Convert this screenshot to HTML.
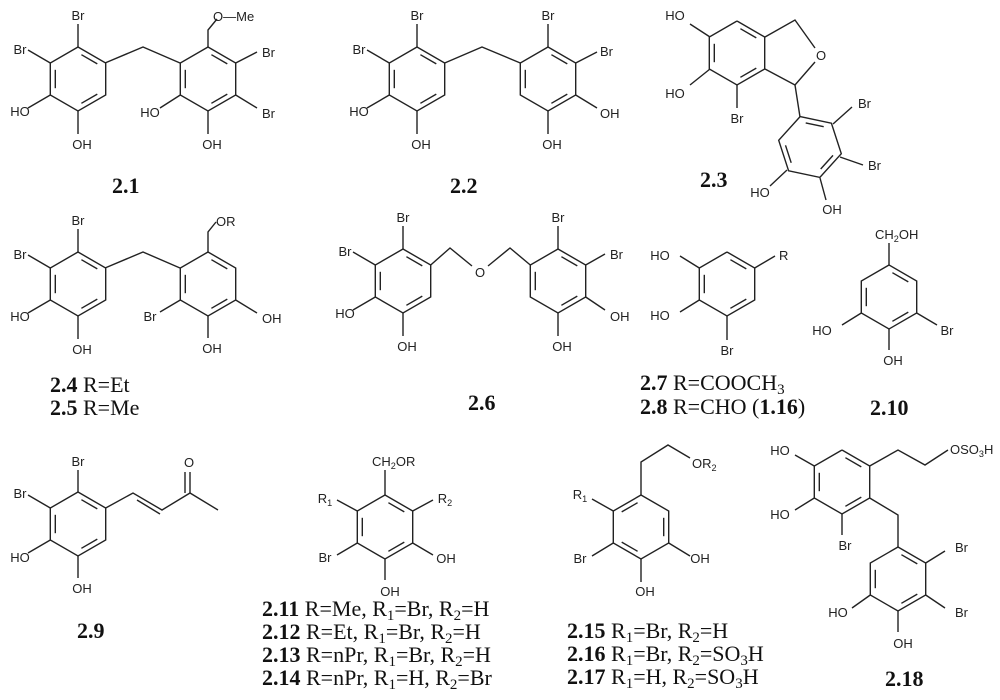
<!DOCTYPE html>
<html><head><meta charset="utf-8"><style>
html,body{margin:0;padding:0;background:#fff;}
svg{display:block}
.a{font-family:"Liberation Sans",sans-serif;font-size:13px;fill:#222}
.b{font-family:"Liberation Serif",serif;font-size:22px;fill:#111}
.bb{font-weight:bold}
</style></head><body>
<svg id="s" width="1000" height="700" viewBox="0 0 1000 700" xmlns="http://www.w3.org/2000/svg"><g id="g" stroke="#222" stroke-width="1.4" fill="none"></g><g id="t"></g></svg>
<script>
var G=document.getElementById('g'),T=document.getElementById('t');var out='',txt='';
function L(){var a=arguments;var s='M'+a[0]+' '+a[1];for(var i=2;i<a.length;i+=2)s+=' L'+a[i]+' '+a[i+1];out+='<path d="'+s+'"/>';}
function ring(cx,cy,r,rot,db){rot=rot||-90;db=db||[0,2,4];var v=[];for(var i=0;i<6;i++){var an=(rot+60*i)*Math.PI/180;v.push([cx+r*Math.cos(an),cy+r*Math.sin(an)]);}
var p=[];for(i=0;i<=6;i++)p.push(v[i%6][0].toFixed(1),v[i%6][1].toFixed(1));L.apply(null,p);
db.forEach(function(k){var a=v[k],b=v[(k+1)%6];var f=0.82,s=0.15;function q(P,Q,t){return[P[0]+(Q[0]-P[0])*t,P[1]+(Q[1]-P[1])*t];}
var a2=q(a,[cx,cy],1-f),b2=q(b,[cx,cy],1-f);var A=q(a2,b2,s),B=q(a2,b2,1-s);L(A[0].toFixed(1),A[1].toFixed(1),B[0].toFixed(1),B[1].toFixed(1));});return v;}
function t(x,y,s,anc,cls){txt+='<text x="'+x+'" y="'+y+'" text-anchor="'+(anc||'middle')+'" class="'+(cls||'a')+'">'+s+'</text>';}
function sub(s){return '<tspan dy="3" font-size="0.7em">'+s+'</tspan><tspan dy="-3">';}
function lab(x,y,num,rest){txt+='<text x="'+x+'" y="'+y+'" class="b"><tspan class="bb">'+num+'</tspan>'+(rest||'')+'</text>';}
function S(s){return '<tspan dy="4" font-size="15px">'+s+'</tspan><tspan dy="-4">';}
// catechol ring with Br top and Br left, HO lower-left, OH bottom
function catL(cx,cy){ring(cx,cy,32);L(cx,cy-32,cx,cy-55);t(cx,cy-59,'Br');L(cx-27.7,cy-16,cx-50,cy-29);t(cx-58,cy-25,'Br');
L(cx-27.7,cy+16,cx-50,cy+29);t(cx-58,cy+37,'HO');L(cx,cy+32,cx,cy+55);t(cx+4,cy+70,'OH');}
// 2.1
catL(78,79);ring(208,79,32,-90,[0,2,4]);L(105,63,143,47,180,63);L(208,47,208,30,217,19);t(213,21,'O—Me','start');
L(235.7,63,257,52);t(262,57,'Br','start');L(235.7,95,257,108);t(262,118,'Br','start');L(180.3,95,160,108);t(150,117,'HO');L(208,111,208,134);t(212,149,'OH');
lab(112,193,'2.1');
// 2.2
catL(417,79);ring(548,79,32);L(444.7,63,482,47,520.3,63);L(548,47,548,24);t(548,20,'Br');L(575.7,63,597,52);t(600,56,'Br','start');
L(575.7,95,597,108);t(600,118,'OH','start');L(548,111,548,134);t(552,149,'OH');lab(450,193,'2.2');
// 2.3
ring(737,53,32,-90,[0,2,4]);L(765,37,795,20,815,48);t(821,60,'O');L(815,62,795,85,765,69);L(710,37,690,24);t(675,20,'HO');L(710,69,690,85);t(675,98,'HO');L(737,85,737,108);t(737,123,'Br');
var v=ring(810,147,32,-108,[0,2,4]);L(795,85,800,117);L(833,124,852,107);t(858,108,'Br','start');L(840,157,863,165);t(868,170,'Br','start');L(787,170,770,186);t(760,197,'HO');L(820,178,826,200);t(832,214,'OH');
lab(700,187,'2.3');
// 2.4
catL(78,284);ring(208,284,32);L(105,268,143,252,180,268);L(208,252,208,232,216,222);t(216,226,'OR','start');
L(180.3,300,160,312);t(150,321,'Br');L(235.7,300,257,313);t(262,323,'OH','start');L(208,316,208,338);t(212,353,'OH');
lab(50,392,'2.4',' R=Et');lab(50,415,'2.5',' R=Me');
// 2.6
catL(403,281);ring(558,281,32);L(430.7,265,450,248,472,266);t(480,277,'O');L(488,266,510,248,530.3,265);L(558,249,558,226);t(558,222,'Br');
L(585.7,265,605,254);t(610,259,'Br','start');L(585.7,297,605,310);t(610,321,'OH','start');L(558,313,558,336);t(562,351,'OH');lab(468,410,'2.6');
// 2.7
ring(727,284,32);L(754.7,268,775,256);t(779,260,'R','start');L(699.3,268,680,256);t(660,260,'HO');L(699.3,300,680,312);t(660,320,'HO');L(727,316,727,340);t(727,355,'Br');
lab(640,390,'2.7',' R=COOCH'+S('3'));lab(640,414,'2.8',' R=CHO (<tspan class="bb">1.16</tspan>)');
// 2.10
ring(889,297,32);L(889,265,889,243);t(875,239,'CH'+sub('2')+'OH</tspan>','start');L(861.3,313,842,325);t(822,335,'HO');L(916.7,313,937,325);t(947,335,'Br');L(889,329,889,350);t(893,365,'OH');
lab(870,415,'2.10');
// 2.9
ring(78,524,32);L(78,492,78,470);t(78,466,'Br');L(50.3,508,28,495);t(20,498,'Br');L(50.3,540,28,553);t(20,562,'HO');L(78,556,78,578);t(82,593,'OH');
L(105.7,508,133,493,162,510,190,493,218,510);L(137,500,160,514);L(190,493,190,472);L(185,493,185,472);t(189,467,'O');lab(77,638,'2.9');
// 2.11
ring(385,527,32);L(385,495,385,470);t(372,466,'CH'+sub('2')+'OR</tspan>','start');L(357.3,511,337,500);t(325,503,'R'+sub('1')+'</tspan>');L(412.7,511,433,500);t(445,503,'R'+sub('2')+'</tspan>');
L(357.3,543,337,555);t(325,562,'Br');L(412.7,543,433,555);t(446,563,'OH');L(385,559,385,580);t(390,596,'OH');
lab(262,616,'2.11',' R=Me, R'+S('1')+'=Br, R'+S('2')+'=H</tspan>');lab(262,639,'2.12',' R=Et, R'+S('1')+'=Br, R'+S('2')+'=H</tspan>');
lab(262,662,'2.13',' R=nPr, R'+S('1')+'=Br, R'+S('2')+'=H</tspan>');lab(262,685,'2.14',' R=nPr, R'+S('1')+'=H, R'+S('2')+'=Br</tspan>');
// 2.15
ring(641,527,32,-90,[5,1,3]);L(641,495,641,462,668,445,690,458);t(692,468,'OR'+sub('2')+'</tspan>','start');L(613.3,511,592,499);t(580,499,'R'+sub('1')+'</tspan>');
L(613.3,543,592,556);t(580,563,'Br');L(668.7,543,690,556);t(700,563,'OH');L(641,559,641,582);t(645,596,'OH');
lab(567,638,'2.15',' R'+S('1')+'=Br, R'+S('2')+'=H</tspan>');lab(567,661,'2.16',' R'+S('1')+'=Br, R'+S('2')+'=SO'+S('3')+'H</tspan>');lab(567,684,'2.17',' R'+S('1')+'=H, R'+S('2')+'=SO'+S('3')+'H</tspan>');
// 2.18
ring(842,482,32);L(814.3,466,795,455);t(780,455,'HO');L(814.3,498,795,510);t(780,519,'HO');L(842,514,842,535);t(845,550,'Br');
L(869.7,466,898,450,925,465,948,450);t(950,454,'OSO'+sub('3')+'H</tspan>','start');L(869.7,498,898,515,898,547);
ring(898,579,32);L(925.7,563,945,551);t(955,552,'Br','start');L(925.7,595,945,608);t(955,617,'Br','start');L(870.3,595,852,608);t(838,617,'HO');L(898,611,898,632);t(903,648,'OH');
lab(885,686,'2.18');
G.innerHTML=out;T.innerHTML=txt;
</script>
</body></html>
